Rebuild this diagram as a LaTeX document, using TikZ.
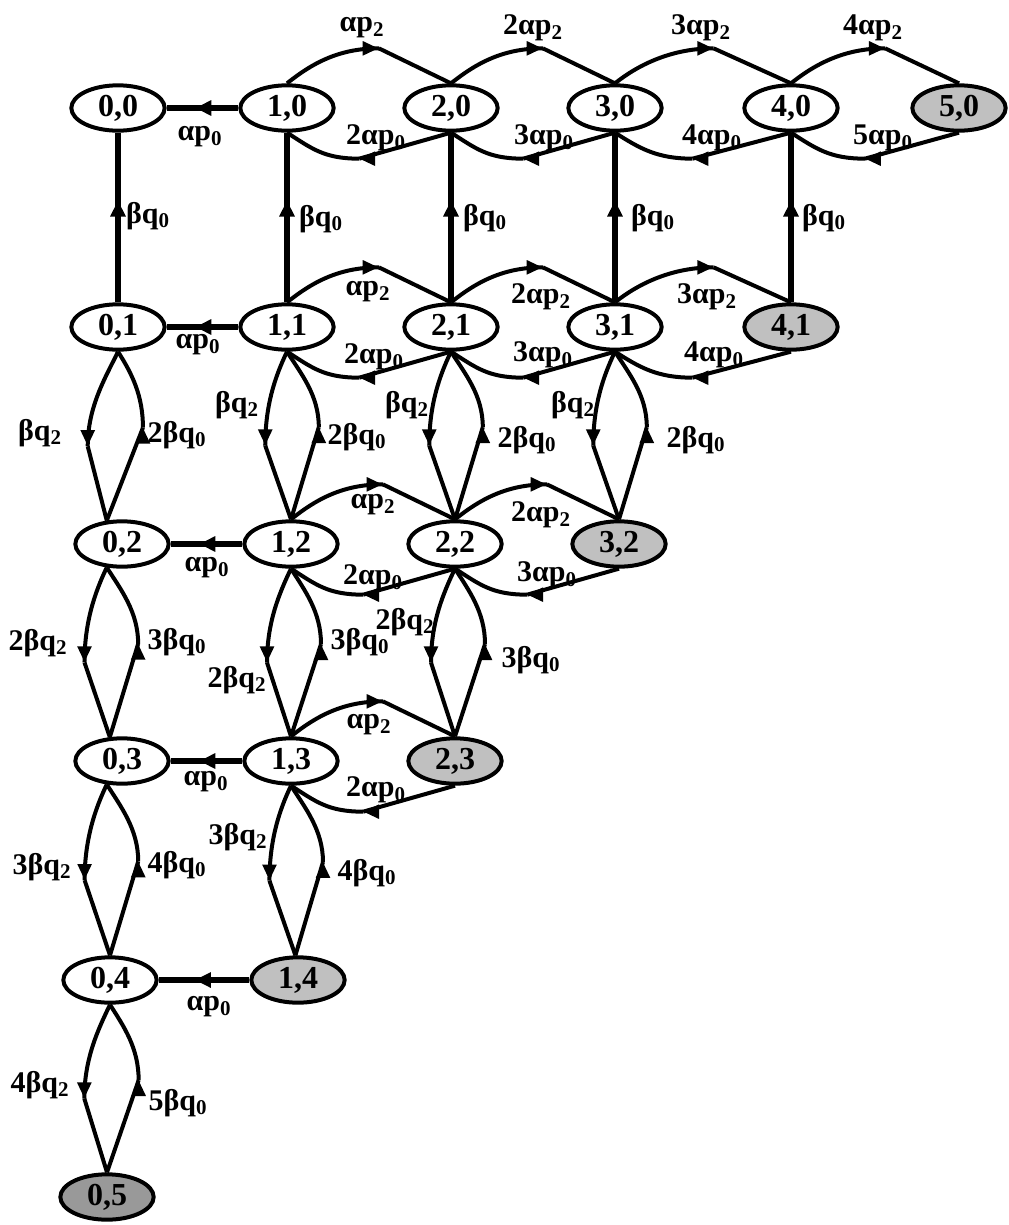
\documentclass[tikz,border=0pt]{standalone}
\usepackage{fontspec}
\setmainfont{Liberation Serif}
\usetikzlibrary{arrows.meta,calc,decorations.markings,shapes.geometric}
\definecolor{lg}{RGB}{192,192,192}
\definecolor{dg}{RGB}{153,153,153}
\tikzset{
  st/.style={ellipse, draw, line width=3pt, minimum width=70pt, minimum height=34pt,
    inner sep=0pt, font=\fontsize{24}{24}\selectfont\bfseries},
  lab/.style={font=\fontsize{22.5}{22.5}\selectfont\bfseries, inner sep=0pt},
  arcline/.style={line width=3pt},
  sline/.style={line width=3.9pt},
  tipat/.style={postaction={decorate}, decoration={markings,
    mark=at position #1 with {\arrow{Triangle[length=12pt,width=10pt]}}}},
  midtip/.style={postaction={decorate}, decoration={markings,
    mark=at position #1 with {\arrow{Triangle[length=12pt,width=11pt]}}}},
}
\newcommand\TopArc[2]{%
  \draw[arcline,tipat=0.999] (#1) .. controls +(25,-20) and +(-40,0) .. ($(#1)!0.56!(#2)+(0,-35)$);
  \draw[arcline] ($(#1)!0.56!(#2)+(0,-35)$) -- (#2);}
\newcommand\BotArc[2]{%
  \draw[arcline] (#2) -- ($(#1)!0.44!(#2)+(0,26)$);
  \draw[arcline,tipat=0.001] ($(#1)!0.44!(#2)+(0,26)$) .. controls +(-35,0) and +(25,16) .. (#1);}
\newcommand\LeftArc[2]{%
  \draw[arcline,tipat=0.999] (#1) .. controls +(-12,25) and +(0,-40) .. ($(#1)!0.56!(#2)+(-24,0)$);
  \draw[arcline] ($(#1)!0.56!(#2)+(-24,0)$) -- (#2);}
\newcommand\RightArc[2]{%
  \draw[arcline] (#2) -- ($(#1)!0.45!(#2)+(30,0)$);
  \draw[arcline,tipat=0.001] ($(#1)!0.45!(#2)+(30,0)$) .. controls +(0,-32) and +(14,22) .. (#1);}
\begin{document}
\begin{tikzpicture}[x=0.75pt,y=-0.75pt]
\useasboundingbox (0,0) rectangle (1009,1225);
% states
\node[st] (n00) at (118,108) {0,0};
\node[st] (n10) at (287,108) {1,0};
\node[st] (n20) at (451,108) {2,0};
\node[st] (n30) at (615,108) {3,0};
\node[st] (n40) at (791,108) {4,0};
\node[st,fill=lg] (n50) at (959,108) {5,0};
\node[st] (n01) at (118,327) {0,1};
\node[st] (n11) at (287,327) {1,1};
\node[st] (n21) at (451,327) {2,1};
\node[st] (n31) at (615,327) {3,1};
\node[st,fill=lg] (n41) at (791,327) {4,1};
\node[st] (n02) at (122,544) {0,2};
\node[st] (n12) at (291,544) {1,2};
\node[st] (n22) at (455,544) {2,2};
\node[st,fill=lg] (n32) at (619,544) {3,2};
\node[st] (n03) at (122,761) {0,3};
\node[st] (n13) at (291,761) {1,3};
\node[st,fill=lg] (n23) at (455,761) {2,3};
\node[st] (n04) at (110,980) {0,4};
\node[st,fill=lg] (n14) at (298,980) {1,4};
\node[st,fill=dg] (n05) at (107,1197) {0,5};
% row 0
\TopArc{n10.north}{n20.north}
\TopArc{n20.north}{n30.north}
\TopArc{n30.north}{n40.north}
\TopArc{n40.north}{n50.north}
\BotArc{n10.south}{n20.south}
\BotArc{n20.south}{n30.south}
\BotArc{n30.south}{n40.south}
\BotArc{n40.south}{n50.south}
\draw[sline,midtip=0.6] (n10.west) -- (n00.east);
% row 0-1 verticals
\draw[sline,midtip=0.6] (n01.north) -- (n00.south);
\draw[sline,midtip=0.6] (n11.north) -- (n10.south);
\draw[sline,midtip=0.6] (n21.north) -- (n20.south);
\draw[sline,midtip=0.6] (n31.north) -- (n30.south);
\draw[sline,midtip=0.6] (n41.north) -- (n40.south);
% row 1
\TopArc{n11.north}{n21.north}
\TopArc{n21.north}{n31.north}
\TopArc{n31.north}{n41.north}
\BotArc{n11.south}{n21.south}
\BotArc{n21.south}{n31.south}
\BotArc{n31.south}{n41.south}
\draw[sline,midtip=0.6] (n11.west) -- (n01.east);
% row 1-2 verticals
\LeftArc{n01.south}{n02.123}
\RightArc{n01.south}{n02.123}
\LeftArc{n11.south}{n12.north}
\RightArc{n11.south}{n12.north}
\LeftArc{n21.south}{n22.north}
\RightArc{n21.south}{n22.north}
\LeftArc{n31.south}{n32.north}
\RightArc{n31.south}{n32.north}
% row 2
\TopArc{n12.north}{n22.north}
\TopArc{n22.north}{n32.north}
\BotArc{n12.south}{n22.south}
\BotArc{n22.south}{n32.south}
\draw[sline,midtip=0.6] (n12.west) -- (n02.east);
% row 2-3 verticals
\LeftArc{n02.237}{n03.117}
\RightArc{n02.237}{n03.117}
\LeftArc{n12.south}{n13.north}
\RightArc{n12.south}{n13.north}
\LeftArc{n22.south}{n23.north}
\RightArc{n22.south}{n23.north}
% row 3
\TopArc{n13.north}{n23.north}
\BotArc{n13.south}{n23.south}
\draw[sline,midtip=0.6] (n13.west) -- (n03.east);
% row 3-4 verticals
\LeftArc{n03.237}{n04.north}
\RightArc{n03.237}{n04.north}
\LeftArc{n13.south}{n14.96}
\RightArc{n13.south}{n14.96}
% row 4
\draw[sline,midtip=0.6] (n14.west) -- (n04.east);
% row 4-5 verticals
\LeftArc{n04.south}{n05.north}
\RightArc{n04.south}{n05.north}
% labels row 0
\node[lab] (a1) at (362,28) {αp\textsubscript{2}};
\node[lab] (a2) at (533,28) {2αp\textsubscript{2}};
\node[lab] (a3) at (701,28) {3αp\textsubscript{2}};
\node[lab] (a4) at (873,28) {4αp\textsubscript{2}};
\node[lab] (b1) at (376,138) {2αp\textsubscript{0}};
\node[lab] (b2) at (544,138) {3αp\textsubscript{0}};
\node[lab] (b3) at (712,138) {4αp\textsubscript{0}};
\node[lab] (b4) at (883,138) {5αp\textsubscript{0}};
\node[lab] (h0) at (200,137) {αp\textsubscript{0}};
\node[lab] (v0) at (148,216) {βq\textsubscript{0}};
\node[lab] (v1) at (321,219) {βq\textsubscript{0}};
\node[lab] (v2) at (485,218) {βq\textsubscript{0}};
\node[lab] (v3) at (653,218) {βq\textsubscript{0}};
\node[lab] (v4) at (824,218) {βq\textsubscript{0}};
% labels row 1
\node[lab] (h1) at (198,345) {αp\textsubscript{0}};
\node[lab] (c1) at (368,292) {αp\textsubscript{2}};
\node[lab] (c2) at (541,297) {2αp\textsubscript{2}};
\node[lab] (c3) at (707,297) {3αp\textsubscript{2}};
\node[lab] (d1) at (374,357) {2αp\textsubscript{0}};
\node[lab] (d2) at (543,355) {3αp\textsubscript{0}};
\node[lab] (d3) at (714,355) {4αp\textsubscript{0}};
% verticals 1-2
\node[lab] (e0) at (40,433) {βq\textsubscript{2}};
\node[lab] (f0) at (177,435) {2βq\textsubscript{0}};
\node[lab] (e1) at (237,405) {βq\textsubscript{2}};
\node[lab] (f1) at (357,437) {2βq\textsubscript{0}};
\node[lab] (e2) at (407,405) {βq\textsubscript{2}};
\node[lab] (f2) at (527,440) {2βq\textsubscript{0}};
\node[lab] (e3) at (573,405) {βq\textsubscript{2}};
\node[lab] (f3) at (696,440) {2βq\textsubscript{0}};
% row 2
\node[lab] (h2) at (207,568) {αp\textsubscript{0}};
\node[lab] (g1) at (373,505) {αp\textsubscript{2}};
\node[lab] (g2) at (541,515) {2αp\textsubscript{2}};
\node[lab] (k1) at (373,578) {2αp\textsubscript{0}};
\node[lab] (k2) at (547,575) {3αp\textsubscript{0}};
% verticals 2-3
\node[lab] (m0) at (38,643) {2βq\textsubscript{2}};
\node[lab] (o0) at (177,642) {3βq\textsubscript{0}};
\node[lab] (m1) at (237,680) {2βq\textsubscript{2}};
\node[lab] (o1) at (360,642) {3βq\textsubscript{0}};
\node[lab] (m2) at (405,622) {2βq\textsubscript{2}};
\node[lab] (o2) at (531,660) {3βq\textsubscript{0}};
% row 3
\node[lab] (h3) at (206,782) {αp\textsubscript{0}};
\node[lab] (r1) at (369,725) {αp\textsubscript{2}};
\node[lab] (s1) at (376,790) {2αp\textsubscript{0}};
% verticals 3-4
\node[lab] (t0) at (42,867) {3βq\textsubscript{2}};
\node[lab] (u0) at (177,865) {4βq\textsubscript{0}};
\node[lab] (t1) at (238,837) {3βq\textsubscript{2}};
\node[lab] (u1) at (367,873) {4βq\textsubscript{0}};
% row 4
\node[lab] (h4) at (209,1007) {αp\textsubscript{0}};
% verticals 4-5
\node[lab] (w0) at (40,1085) {4βq\textsubscript{2}};
\node[lab] (x0) at (178,1103) {5βq\textsubscript{0}};
\end{tikzpicture}
\end{document}
